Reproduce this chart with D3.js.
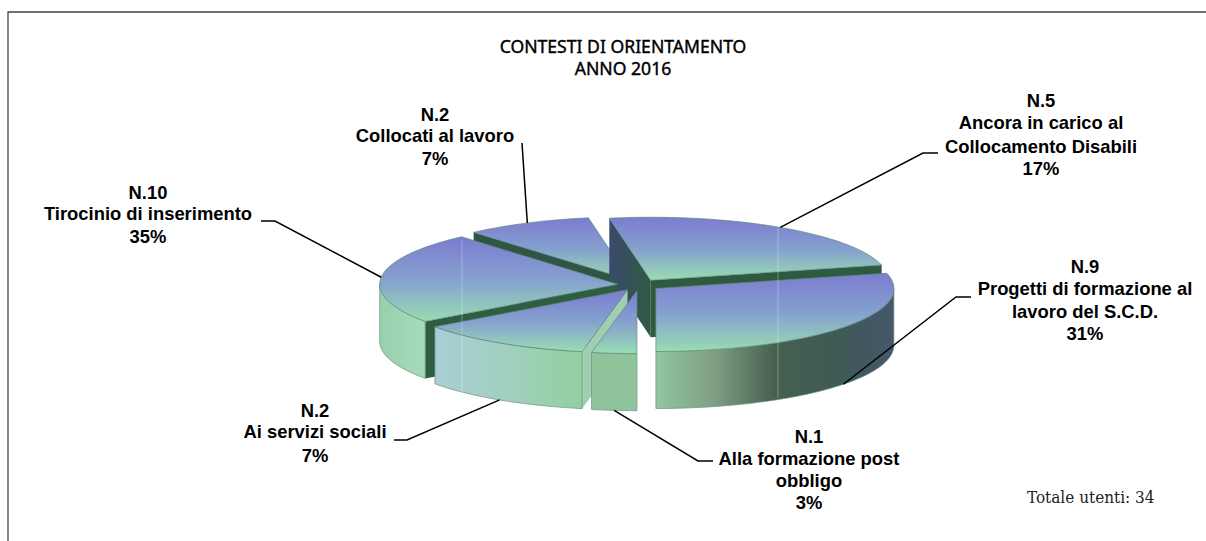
<!DOCTYPE html>
<html>
<head>
<meta charset="utf-8">
<title>Contesti di orientamento 2016</title>
<script src="https://cdnjs.cloudflare.com/ajax/libs/d3/7.8.5/d3.min.js"></script>
<style>
  html, body { margin: 0; padding: 0; background: #fff; overflow: hidden; }
  svg { display: block; }
</style>
</head>
<body>
<div id="chart"></div>
<script>
// data
const titleLines = ["CONTESTI DI ORIENTAMENTO", "ANNO 2016"];
const totalLabel = "Totale utenti: 34";
const counts = [5, 9, 1, 2, 10, 2];
const percents = [17, 31, 3, 7, 35, 7];
const categories = [
  ["Ancora in carico al", "Collocamento Disabili"],
  ["Progetti di formazione al", "lavoro del S.C.D."],
  ["Alla formazione post", "obbligo"],
  ["Ai servizi sociali"],
  ["Tirocinio di inserimento"],
  ["Collocati al lavoro"]
];
// size of each wedge, in degrees. The reference does not
// draw its wedges in proportion to the printed percentages, so they are kept apart.
const wedgeDegrees = [86, 104, 11, 43, 85, 31];

// layout
const width = 1206, height = 541;
const cx = 639, cy = 285, rx = 238, ry = 63, depth = 57, explode = 0.09;
const startDegrees = -10;

// label centre, baseline of the first line, baselines step, and the leader elbow + tail
const labelLayout = [
  {x: 1041, y: 107, steps: [22, 24, 22], elbow: [923, 153], tail: 938},
  {x: 1085, y: 273, steps: [22, 23, 22], elbow: [956, 297], tail: 971},
  {x: 809, y: 443, steps: [22, 22, 22], elbow: [698, 461], tail: 713},
  {x: 315, y: 417, steps: [21, 24], elbow: [407, 440], tail: 394},
  {x: 148, y: 199, steps: [21, 23], elbow: [275, 221], tail: 261},
  {x: 435, y: 121, steps: [21, 23], elbow: [522, 143], tail: 522}
];

// wall and cut colours, left to right
const topStops = ["#7c7ccf", "#84a0cf", "#9adcb2"];
const wallStops = [
  [],
  ["#90c6a0", "#7f9e84", "#45604e", "#3e5a55", "#46586a"],
  ["#8ec39a", "#8fc49c"],
  ["#a9cdd8", "#a0d0bd", "#93cfa0"],
  ["#96d0ae", "#a6dbba"],
  []
];
const cutStart = ["#3a4a6c", "#2f5a42", "#2f5a42", "#9fcfb2", "#2f5d43", "#2f5444"];
const cutEnd = ["#2f5a40", "#2f5a40", "#8fc49c", "#8fc49c", "#2f5a40", "#2f5a40"];

const x = d3.scaleLinear().domain([-1, 1]).range([cx - rx, cx + rx]);
const y = d3.scaleLinear().domain([-1, 1]).range([cy - ry, cy + ry]);

const pie = d3.pie().sort(null)
  .startAngle(startDegrees * Math.PI / 180)
  .endAngle((startDegrees + 360) * Math.PI / 180);

const slices = pie(wedgeDegrees).map(function (d, i) {
  const mid = (d.startAngle + d.endAngle) / 2;
  return {
    i: i,
    a0: d.startAngle,
    a1: d.endAngle,
    mid: mid,
    ox: explode * Math.sin(mid),
    oy: -explode * Math.cos(mid)
  };
});

// unit circle position (clockwise from 12 o'clock) to screen, with the slice pulled out
function rim(s, a, r, drop) {
  return [x(s.ox + r * Math.sin(a)), y(s.oy - r * Math.cos(a)) + (drop || 0)];
}
function arcAngles(a0, a1) {
  const n = Math.max(2, Math.ceil((a1 - a0) / 0.03));
  return d3.range(n + 1).map(function (k) { return a0 + (a1 - a0) * k / n; });
}

const line = d3.line();
const svg = d3.select("#chart").append("svg")
  .attr("width", width)
  .attr("height", height);
const defs = svg.append("defs");

defs.append("filter").attr("id", "soft")
  .attr("x", "-5%").attr("y", "-5%").attr("width", "110%").attr("height", "110%")
  .append("feGaussianBlur").attr("stdDeviation", 0.55);

function gradient(id, stops, vertical) {
  const g = defs.append("linearGradient").attr("id", id)
    .attr("x1", 0).attr("y1", 0)
    .attr("x2", vertical ? 0 : 1).attr("y2", vertical ? 1 : 0);
  stops.forEach(function (c, k) {
    g.append("stop")
      .attr("offset", stops.length > 1 ? k / (stops.length - 1) : 0)
      .attr("stop-color", c);
  });
  return "url(#" + id + ")";
}

// frame
svg.append("path")
  .attr("d", line([[8, height], [8, 12], [width, 12]]))
  .attr("fill", "none")
  .attr("stroke", "#444")
  .attr("stroke-width", 1.3);

// title
svg.append("g").selectAll("text")
  .data(titleLines)
  .enter().append("text")
  .attr("x", 623)
  .attr("y", function (d, i) { return 53 + i * 22; })
  .attr("text-anchor", "middle")
  .style("font-family", "'Noto Sans', sans-serif")
  .style("font-size", "17.6px")
  .style("fill", "#000")
  .style("stroke", "#000")
  .style("stroke-width", 0.4)
  .text(function (d) { return d; });

const pieGroup = svg.append("g").attr("filter", "url(#soft)");
const topFill = gradient("top", topStops, true);

// back slices first
const drawOrder = slices.slice().sort(function (a, b) {
  return -Math.cos(a.mid) - -Math.cos(b.mid);
});

drawOrder.forEach(function (s) {
  const g = pieGroup.append("g");
  const apex = rim(s, 0, 0);

  // cut faces, only those turned towards the viewer
  if (Math.sin(s.a0) < -0.001) {
    const p = rim(s, s.a0, 1);
    const fill = s.i === 0
      ? gradient("cut0", [cutStart[0], cutEnd[0]], false)
      : cutStart[s.i];
    g.append("path")
      .attr("d", line([apex, p, [p[0], p[1] + depth], [apex[0], apex[1] + depth]]) + "Z")
      .attr("fill", fill);
  }
  if (Math.sin(s.a1) > 0.001) {
    const p = rim(s, s.a1, 1);
    g.append("path")
      .attr("d", line([apex, p, [p[0], p[1] + depth], [apex[0], apex[1] + depth]]) + "Z")
      .attr("fill", cutEnd[s.i]);
  }

  // outer wall, front half of the ellipse only
  const w0 = Math.max(s.a0, Math.PI / 2), w1 = Math.min(s.a1, 3 * Math.PI / 2);
  if (w1 > w0) {
    const angles = arcAngles(w0, w1);
    const upper = angles.map(function (a) { return rim(s, a, 1); });
    const lower = angles.slice().reverse().map(function (a) { return rim(s, a, 1, depth); });
    g.append("path")
      .attr("d", line(upper.concat(lower)) + "Z")
      .attr("fill", gradient("wall" + s.i, wallStops[s.i], false))
      .attr("stroke", "#6f8f84")
      .attr("stroke-width", 0.7);
  }

  // top face
  const rimPts = arcAngles(s.a0, s.a1).map(function (a) { return rim(s, a, 1); });
  g.append("path")
    .attr("d", line([apex].concat(rimPts)) + "Z")
    .attr("fill", topFill)
    .attr("stroke", "#5f8a80")
    .attr("stroke-width", 0.7);
});

// the two pale seams that run through the reference picture
pieGroup.selectAll("line.seam")
  .data([[462, 240, 408], [778, 228, 398]])
  .enter().append("line")
  .attr("x1", function (d) { return d[0]; })
  .attr("x2", function (d) { return d[0]; })
  .attr("y1", function (d) { return d[1]; })
  .attr("y2", function (d) { return d[2]; })
  .attr("stroke", "#fff")
  .attr("stroke-opacity", 0.3);

// leader lines start at the middle of each wedge, on the wall bottom for the front ones
svg.append("g").selectAll("path")
  .data(slices)
  .enter().append("path")
  .attr("d", function (s) {
    const l = labelLayout[s.i];
    const front = Math.cos(s.mid) < 0;
    const from = rim(s, s.mid, 1, front ? depth : 0);
    return line([from, l.elbow, [l.tail, l.elbow[1]]]);
  })
  .attr("fill", "none")
  .attr("stroke", "#000")
  .attr("stroke-width", 1.5);

// labels
const labels = svg.append("g").selectAll("text")
  .data(slices)
  .enter().append("text")
  .attr("text-anchor", "middle")
  .style("font-family", "'Liberation Sans', Arial, sans-serif")
  .style("font-size", "18.4px")
  .style("font-weight", "bold")
  .style("fill", "#000");

labels.each(function (s) {
  const l = labelLayout[s.i];
  const rows = ["N." + counts[s.i]].concat(categories[s.i], [percents[s.i] + "%"]);
  let yy = l.y;
  rows.forEach(function (t, k) {
    d3.select(this).append("tspan").attr("x", l.x).attr("y", yy).text(t);
    yy += l.steps[k] || 0;
  }, this);
});

// total
svg.append("text")
  .attr("x", 1027)
  .attr("y", 503)
  .style("font-family", "'DejaVu Serif Condensed', 'DejaVu Serif', serif")
  .style("font-size", "17px")
  .style("fill", "#222")
  .text(totalLabel);
</script>
</body>
</html>
